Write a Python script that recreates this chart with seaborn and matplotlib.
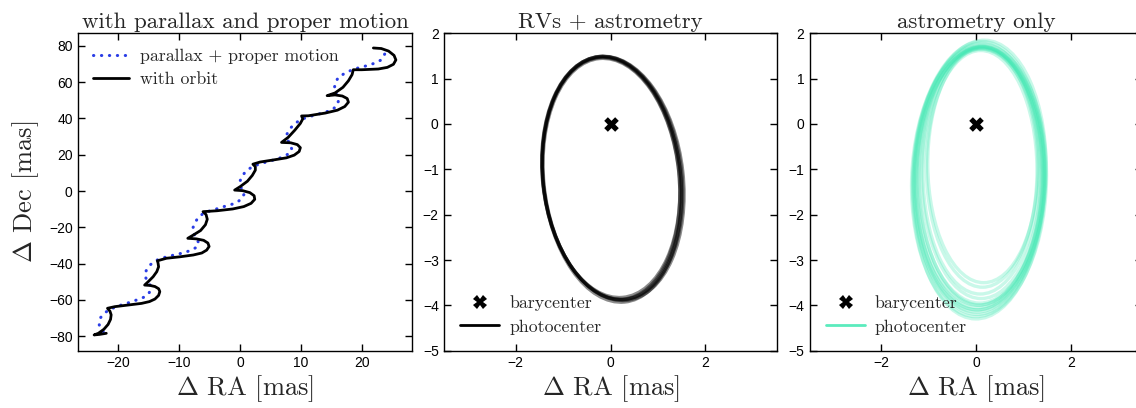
import matplotlib
matplotlib.use("Agg")
import matplotlib.pyplot as plt
from matplotlib.patches import Ellipse
from matplotlib.lines import Line2D
import seaborn as sns

# ---- sky path: parallax + proper motion only [mas] ----
pm_ra = [-22.5, -23.1, -23.2, -22.9, -22.2, -21.4, -20.3, -19.2, -18.1, -17.0,
         -15.9, -15.1, -14.7, -14.8, -15.4, -15.7, -15.4, -14.8, -13.9, -12.5,
         -11.1, -9.7, -8.3, -7.3, -6.8, -7.1, -7.7, -7.8, -7.4, -6.9,
         -6.0, -4.9, -3.6, -2.2, -0.8, 0.3, 0.7, 0.2, -0.1, 0.2,
         0.8, 1.6, 2.7, 4.1, 5.5, 6.9, 7.9, 8.5, 8.2, 7.7,
         7.7, 8.1, 8.9, 9.9, 11.0, 12.3, 13.7, 15.1, 16.0, 16.2,
         15.8, 15.5, 15.6, 16.2, 17.8, 19.4, 20.8, 22.2, 23.3, 23.8, 23.0]
pm_dec = [-77.6, -75.2, -72.6, -69.7, -67.1, -65.3, -63.8, -62.5, -61.4, -60.1,
          -58.7, -57.0, -54.6, -51.9, -48.7, -46.3, -43.6, -40.8, -38.4, -36.7,
          -35.5, -34.4, -33.0, -31.3, -29.0, -26.1, -23.3, -20.6, -17.5, -14.5,
          -12.3, -10.9, -9.6, -8.1, -6.8, -4.3, -1.3, 1.5, 4.5, 7.6,
          10.3, 12.5, 14.3, 15.8, 17.1, 18.6, 20.4, 23.0, 25.9, 28.7,
          31.4, 34.0, 37.0, 39.2, 40.7, 41.9, 43.2, 44.7, 47.4, 50.5,
          53.5, 56.5, 59.5, 63.0, 66.0, 67.9, 69.1, 70.6, 72.5, 75.8, 78.5]

# ---- same path with the orbital reflex motion added [mas] ----
orb_ra = [-22.0, -23.1, -24.0,
          -23.3, -22.4, -21.7, -21.3, -21.2, -21.4, -21.8,
          -20.6, -18.4, -16.2, -14.9, -14.0, -13.4, -13.2, -13.4, -14.0, -14.8, -15.7,
          -15.1, -14.3, -13.7, -13.4, -13.5, -13.6,
          -12.1, -9.9, -7.7, -6.3, -5.5, -5.1, -5.3, -6.0, -7.2, -8.6,
          -7.7, -6.5, -5.7, -5.4, -5.6, -6.1,
          -3.8, -1.2, 0.6, 1.8, 2.4, 2.3, 1.6, 0.4, -0.9,
          0.0, 1.2, 2.0, 2.5, 2.5, 2.1,
          3.3, 5.6, 7.6, 8.9, 9.7, 9.9, 9.4, 8.3, 6.8,
          7.9, 9.0, 9.9, 10.3, 10.1,
          11.2, 14.0, 16.0, 17.2, 17.8, 17.6, 16.8, 15.6, 14.3,
          15.6, 16.9, 17.8, 18.4, 18.6,
          20.0, 22.7, 24.2, 25.2, 25.6, 25.3, 24.4, 23.2, 21.9]
orb_dec = [-78.5, -79.1, -79.4,
           -78.5, -76.3, -73.6, -70.8, -68.3, -66.3, -64.7,
           -63.8, -62.9, -62.0, -61.0, -59.6, -57.6, -55.5, -53.9, -52.7, -52.1, -51.9,
           -50.0, -47.3, -44.5, -41.8, -39.6, -38.5,
           -37.1, -36.3, -35.3, -34.2, -32.6, -30.6, -28.7, -27.2, -26.4, -26.1,
           -24.3, -21.8, -18.6, -15.6, -13.0, -11.4,
           -10.9, -9.9, -8.6, -6.8, -4.6, -2.6, -0.9, 0.2, 0.5,
           2.4, 5.4, 8.6, 11.5, 13.4, 14.8,
           16.0, 17.2, 18.3, 19.8, 21.8, 23.9, 25.6, 26.6, 26.8,
           29.6, 33.6, 37.3, 39.8, 41.4,
           41.5, 43.0, 44.6, 46.6, 49.0, 51.0, 52.4, 53.0, 52.6,
           54.1, 57.2, 60.8, 64.2, 66.9,
           66.9, 67.3, 68.2, 69.9, 72.3, 74.8, 77.2, 78.6, 78.9]

# ---- photocenter orbits, RVs + astrometry (centre, full axes, tilt in deg) ----
rv_cx = [0.03, 0.02, 0.04, 0.03, 0.05, 0.01]
rv_cy = [-1.20, -1.21, -1.19, -1.22, -1.20, -1.18]
rv_w = [2.89, 2.85, 2.93, 2.90, 2.96, 2.87]
rv_h = [5.37, 5.33, 5.38, 5.44, 5.41, 5.31]
rv_ang = [5.7, 5.4, 6.0, 5.6, 6.1, 5.3]

# ---- photocenter orbits, astrometry only ----
ast_cx = [0.07, 0.09, 0.06, 0.105, 0.06, 0.115, 0.085, 0.105, 0.065, 0.075, 0.14, 0.06, 0.09, 0.08]
ast_cy = [-1.185, -1.125, -1.215, -1.10, -1.25, -0.99, -1.125, -1.025, -1.21, -1.17, -0.91, -1.24, -1.14, -1.20]
ast_w = [2.70, 2.62, 2.78, 2.51, 2.84, 2.33, 2.77, 2.45, 2.75, 2.65, 2.32, 2.80, 2.58, 2.70]
ast_h = [5.73, 5.65, 5.87, 5.50, 6.00, 5.22, 5.95, 5.45, 5.98, 5.66, 5.18, 6.12, 5.70, 5.80]
ast_ang = [-1.0, -0.5, -1.2, 0.0, -1.5, 0.5, -2.0, -0.5, -1.0, -0.8, 0.5, -1.5, -0.5, -1.0]

# barycenter
bary_x = [0.0]
bary_y = [0.0]

left_xticks = [-20, -10, 0, 10, 20]
left_yticks = [-80, -60, -40, -20, 0, 20, 40, 60, 80]
orb_xticks = [-2, 0, 2]
orb_yticks = [-5, -4, -3, -2, -1, 0, 1, 2]

BLUE = "#2a3de6"
GREEN = "#3ee8b2"
SERIF = "cmr10"

sns.set_theme(style="ticks")
plt.rcParams["font.family"] = ["Liberation Sans", "DejaVu Sans"]
plt.rcParams["mathtext.fontset"] = "cm"
plt.rcParams["axes.unicode_minus"] = True

W, H = 1136, 408
fig = plt.figure(figsize=(W / 100, H / 100), dpi=100)


def px_axes(x0, y0, x1, y1):
    return fig.add_axes([x0 / W, 1 - y1 / H, (x1 - x0) / W, (y1 - y0) / H])


ax1 = px_axes(78.3, 33.3, 411.7, 350.7)
ax2 = px_axes(444.3, 33.3, 776.7, 350.7)
ax3 = px_axes(810.0, 33.3, 1142.4, 350.7)

label_kw = dict(fontfamily=SERIF, fontsize=19)
title_kw = dict(fontfamily=SERIF, fontsize=16.5, pad=4)
legend_prop = dict(family=SERIF, size=12.8)

for ax in (ax1, ax2, ax3):
    ax.tick_params(direction="in", top=True, right=True, length=5, width=1,
                   labelsize=10, colors="black", pad=4)
    for s in ax.spines.values():
        s.set_linewidth(1.0)
        s.set_color("black")

# ---------- panel 1 ----------
DOT = (0, (0.1, 2.5))
sns.lineplot(x=pm_ra, y=pm_dec, sort=False, estimator=None, ax=ax1, color=BLUE,
             lw=2.2, linestyle=DOT, dash_capstyle="round")
sns.lineplot(x=orb_ra, y=orb_dec, sort=False, estimator=None, ax=ax1,
             color="black", lw=2.0)
ax1.set_xlim(-26.6, 28.2)
ax1.set_ylim(-88.1, 87.0)
ax1.set_xticks(left_xticks)
ax1.set_yticks(left_yticks)
ax1.set_xlabel(r"$\Delta$ RA [mas]", labelpad=2, **label_kw)
ax1.set_ylabel(r"$\Delta$ Dec [mas]", labelpad=6, **label_kw)
ax1.set_title("with parallax and proper motion", **title_kw)
h1 = [Line2D([], [], color=BLUE, lw=2.2, linestyle=DOT, dash_capstyle="round"),
      Line2D([], [], color="black", lw=2.0)]
ax1.legend(h1, ["parallax + proper motion", "with orbit"], loc="upper left",
           frameon=False, prop=legend_prop, handlelength=2.0, borderaxespad=0.45,
           labelspacing=0.45, handletextpad=0.6)

# ---------- panel 2 ----------
for cx, cy, w, h, a in zip(rv_cx, rv_cy, rv_w, rv_h, rv_ang):
    ax2.add_patch(Ellipse((cx, cy), w, h, angle=a, fill=False,
                          edgecolor="black", lw=2.4, alpha=0.45))
sns.scatterplot(x=bary_x, y=bary_y, ax=ax2, marker="X", s=110, color="black",
                linewidth=0, zorder=5)

# ---------- panel 3 ----------
for cx, cy, w, h, a in zip(ast_cx, ast_cy, ast_w, ast_h, ast_ang):
    ax3.add_patch(Ellipse((cx, cy), w, h, angle=a, fill=False,
                          edgecolor=GREEN, lw=2.4, alpha=0.28))
sns.scatterplot(x=bary_x, y=bary_y, ax=ax3, marker="X", s=110, color="black",
                linewidth=0, zorder=5)

for ax, title, col in ((ax2, "RVs + astrometry", "black"),
                       (ax3, "astrometry only", GREEN)):
    ax.set_xlim(-3.5, 3.5)
    ax.set_ylim(-5, 2)
    ax.set_xticks(orb_xticks)
    ax.set_yticks(orb_yticks)
    ax.set_xlabel(r"$\Delta$ RA [mas]", labelpad=2, **label_kw)
    ax.set_ylabel("")
    ax.set_title(title, **title_kw)
    hh = [Line2D([], [], marker="X", color="black", ls="none", markersize=10,
                 markeredgewidth=0),
          Line2D([], [], color=col, lw=2.0, alpha=0.85 if col == GREEN else 1.0)]
    ax.legend(hh, ["barycenter", "photocenter"], loc="lower left", frameon=False,
              prop=legend_prop, handlelength=2.2, borderaxespad=0.5,
              labelspacing=0.45, handletextpad=0.55)

fig.savefig("out.png", dpi=100)
